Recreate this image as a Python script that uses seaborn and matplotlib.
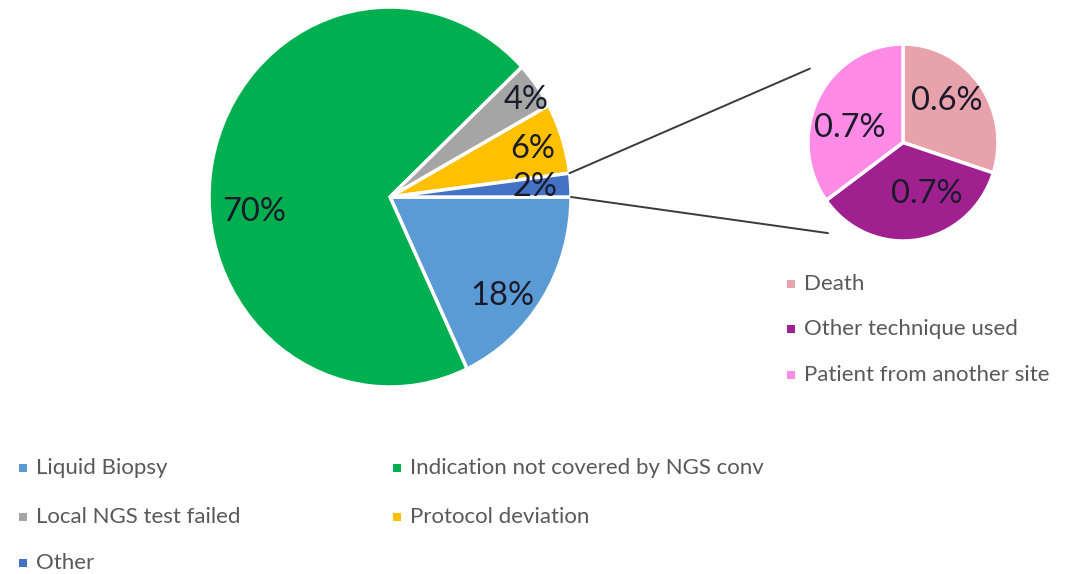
import matplotlib
matplotlib.use("Agg")
import numpy as np
import matplotlib.pyplot as plt
import seaborn as sns
from matplotlib.patches import ConnectionPatch, Rectangle

# Reasons for exclusion (percent of all screened patients)
main_labels = ["Liquid Biopsy", "Indication not covered by NGS conv",
               "Local NGS test failed", "Protocol deviation", "Other"]
main_values = [18, 70, 4, 6, 2]
main_colors = ["#5B9BD5", "#00B050", "#A5A5A5", "#FFC000", "#4472C4"]

# Breakdown of the "Other" slice
sub_labels = ["Death", "Other technique used", "Patient from another site"]
sub_values = [0.6, 0.7, 0.7]
sub_colors = ["#E8A2AC", "#A0208F", "#FF8BE6"]

sns.set_theme(style="white")
plt.rcParams["font.family"] = ["Lato", "DejaVu Sans"]

W, H = 1071, 574
fig = plt.figure(figsize=(W / 100, H / 100), dpi=100)
fig.patch.set_facecolor("white")

LABEL_COLOR = "#1a1a2a"
LEGEND_COLOR = "#595959"
PCT_SIZE = 23.5
LEG_SIZE = 16


def px_axes(x0, y0, x1, y1):
    return fig.add_axes([x0 / W, 1 - y1 / H, (x1 - x0) / W, (y1 - y0) / H])


# full-figure overlay in pixel units for legends and connectors
overlay = fig.add_axes([0, 0, 1, 1])
overlay.set_xlim(0, W)
overlay.set_ylim(H, 0)
overlay.axis("off")

# main pie
ax_main = px_axes(209, 7, 571, 387)
ax_main.pie(main_values, colors=main_colors, startangle=0, counterclock=False,
            wedgeprops=dict(edgecolor="white", linewidth=2.5))
ax_main.set_aspect("auto")
ax_main.set_xlim(-1.0, 1.0)
ax_main.set_ylim(-1.0, 1.0)

main_label_pos = [(0.62, -0.52), (-0.75, -0.08), (0.75, 0.51), (0.79, 0.25), (0.80, 0.05)]
for v, (x, y) in zip(main_values, main_label_pos):
    ax_main.text(x, y, f"{v:g}%", ha="center", va="center",
                 fontsize=PCT_SIZE, color=LABEL_COLOR)

# secondary pie
ax_sub = px_axes(808, 44, 998, 241)
ax_sub.pie(sub_values, colors=sub_colors, startangle=90, counterclock=False,
           wedgeprops=dict(edgecolor="white", linewidth=2.5))
ax_sub.set_aspect("auto")
ax_sub.set_xlim(-1.0, 1.0)
ax_sub.set_ylim(-1.0, 1.0)

sub_label_pos = [(0.46, 0.42), (-0.56, 0.15), (0.25, -0.52)]
for v, (x, y) in zip(sub_values, sub_label_pos):
    ax_sub.text(x, y, f"{v:g}%", ha="center", va="center",
                fontsize=PCT_SIZE, color=LABEL_COLOR)

# connectors from the edges of the "Other" slice
total = sum(main_values)
a_start = np.deg2rad(-360 * sum(main_values[:-1]) / total)
a_end = np.deg2rad(-360.0)
for ang, target in [(a_start, (-0.98, 0.75)), (a_end, (-0.79, -0.92))]:
    con = ConnectionPatch(xyA=(np.cos(ang), np.sin(ang)), coordsA=ax_main.transData,
                          xyB=target, coordsB=ax_sub.transData,
                          color="#3a3a3a", linewidth=1.4)
    fig.add_artist(con)


def legend_item(x, y, color, text):
    s = 8
    overlay.add_patch(Rectangle((x - s / 2, y - s / 2), s, s, color=color, lw=0))
    overlay.text(x + 13, y, text, ha="left", va="center",
                 fontsize=LEG_SIZE, color=LEGEND_COLOR)


# legend for the main pie (two columns)
col_x = [23, 397]
row_y = [468, 517, 563]
for i, (lab, col) in enumerate(zip(main_labels, main_colors)):
    legend_item(col_x[i % 2], row_y[i // 2], col, lab)

# legend for the secondary pie
for i, (lab, col) in enumerate(zip(sub_labels, sub_colors)):
    legend_item(791, [284, 329, 375][i], col, lab)

fig.savefig("out.png", dpi=100, facecolor="white")
